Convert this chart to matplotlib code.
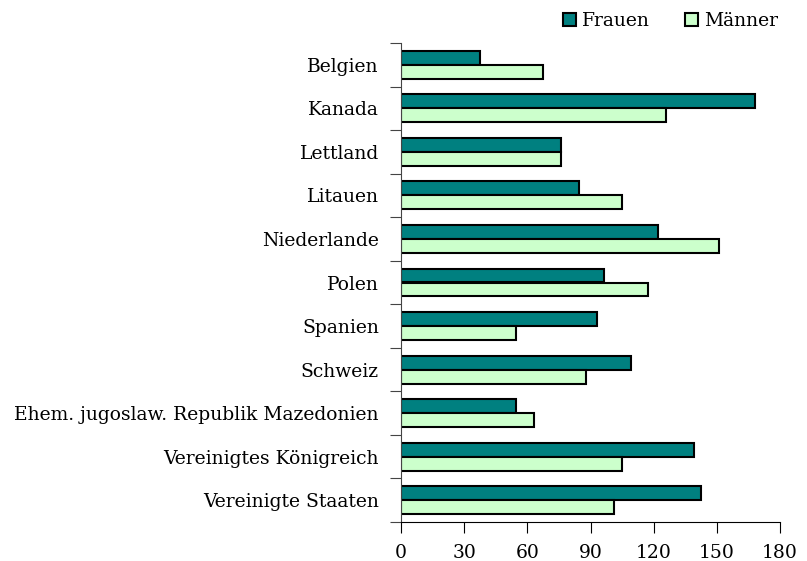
import matplotlib
matplotlib.use('Agg')
import matplotlib.pyplot as plt
import numpy as np

# data
countries = ['Belgien', 'Kanada', 'Lettland', 'Litauen', 'Niederlande', 'Polen',
             'Spanien', 'Schweiz', 'Ehem. jugoslaw. Republik Mazedonien',
             'Vereinigtes Königreich', 'Vereinigte Staaten']
frauen = [37.5, 168, 76, 84.5, 122, 96.5, 93, 109, 54.5, 139, 142.5]
maenner = [67.5, 126, 76, 105, 151, 117.5, 54.5, 88, 63, 105, 101]
xticks = [0, 30, 60, 90, 120, 150, 180]

plt.rcParams['font.family'] = ['DejaVu Serif']
plt.rcParams['font.size'] = 13.5

fig = plt.figure(figsize=(8.07, 5.61), dpi=100)
ax = fig.add_axes([401/807, 39/561, 379/807, 479/561])

n = len(countries)
y = np.arange(n)
h = 0.32
ax.barh(y - h/2, frauen, height=h, color='#008080', edgecolor='black', linewidth=1.5, label='Frauen')
ax.barh(y + h/2, maenner, height=h, color='#CCFFCC', edgecolor='black', linewidth=1.5, label='Männer')

ax.set_ylim(n - 0.5, -0.5)
ax.set_xlim(0, 180)
ax.set_xticks(xticks)
ax.set_yticks(np.arange(n + 1) - 0.5)
ax.set_yticklabels([])
ax.set_yticks(y, minor=True)
ax.set_yticklabels(countries, minor=True)
ax.tick_params(axis='y', which='minor', length=0, pad=16)
ax.tick_params(axis='y', which='major', length=8, direction='out', color='#444444')
ax.tick_params(axis='x', length=8, direction='out', pad=8)
for s in ['top', 'right']:
    ax.spines[s].set_visible(False)
ax.spines['left'].set_color('#444444')

fig.legend(loc='upper right', bbox_to_anchor=(0.985, 1.008), ncol=2, frameon=False,
           handlelength=0.7, handleheight=0.7, columnspacing=1.9, handletextpad=0.3)

fig.savefig('out.png', dpi=100)
